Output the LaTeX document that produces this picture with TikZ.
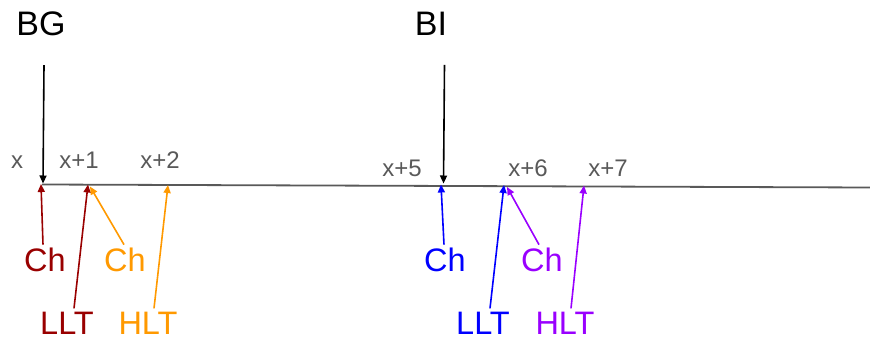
\documentclass[tikz,border=0pt]{standalone}
\usepackage{fontspec}
\setmainfont{Liberation Sans}
\usetikzlibrary{arrows.meta}
\definecolor{slotgray}{RGB}{89,89,89}
\definecolor{bgred}{RGB}{153,0,0}
\definecolor{bgorange}{RGB}{255,153,0}
\definecolor{biblue}{RGB}{0,0,255}
\definecolor{bipurple}{RGB}{153,0,255}

\begin{document}
\begin{tikzpicture}[x=1pt, y=-1pt, >={Triangle[length=8pt,width=7pt]}, line width=1.6pt,
  head/.style={font=\fontsize{34}{34}\selectfont, inner sep=0pt, anchor=base},
  slot/.style={text=slotgray, font=\fontsize{24}{24}\selectfont, inner sep=0pt, anchor=base},
  tag/.style={font=\fontsize{32.5}{33}\selectfont, inner sep=0pt, anchor=base}]
  \useasboundingbox (0,0) rectangle (870,337);
  % timeline
  \coordinate (tlstart) at (42,184.5);
  \coordinate (tlend) at (870,187.5);
  \draw[slotgray, line width=1.8pt] (tlstart) -- (tlend);
  % slot positions on the line
  \coordinate (pbg) at (43,183.5);
  \coordinate (px) at (41,184);
  \coordinate (px1) at (88,184.5);
  \coordinate (px1b) at (90,186.5);
  \coordinate (px2) at (168,185);
  \coordinate (pbi) at (443.5,183.5);
  \coordinate (px5) at (441,184.5);
  \coordinate (px6) at (504,185);
  \coordinate (px6b) at (507,187);
  \coordinate (px7) at (584,185.5);
  % slot labels
  \foreach \x/\y/\n/\t in {17/168/sx/x, 79/168/sx1/x+1, 160/168/sx2/x+2,
                           402/176/sx5/x+5, 528/176/sx6/x+6, 608/176/sx7/x+7}{
    \node[slot] (\n) at (\x,\y) {\t};
  }
  % beacons
  \node[head] (bg) at (41,36) {BG};
  \node[head] (bi) at (431,36) {BI};
  \draw[->] (bg.south -| pbg) ++(1,28) -- (pbg);
  \draw[->] (bi.south -| pbi) ++(1,28) -- (pbi);
  % BG side
  \node[tag, text=bgred] (chbg) at (45,271) {Ch};
  \node[tag, text=bgred] (lltbg) at (67,334.5) {LLT};
  \node[tag, text=bgorange] (chbgo) at (125,271) {Ch};
  \node[tag, text=bgorange] (hltbg) at (148,334.5) {HLT};
  \draw[->, bgred] ([xshift=-2pt,yshift=2pt]chbg.north) -- (px);
  \draw[->, bgred] ([xshift=7pt,yshift=3pt]lltbg.north) -- (px1);
  \draw[->, bgorange] ([xshift=-1pt,yshift=2pt]chbgo.north) -- (px1b);
  \draw[->, bgorange] ([xshift=6pt,yshift=3pt]hltbg.north) -- (px2);
  % BI side
  \node[tag, text=biblue] (chbi) at (445,271) {Ch};
  \node[tag, text=biblue] (lltbi) at (483,334.5) {LLT};
  \node[tag, text=bipurple] (chbip) at (542,271) {Ch};
  \node[tag, text=bipurple] (hltbi) at (565,334.5) {HLT};
  \draw[->, biblue] ([xshift=-1pt,yshift=2pt]chbi.north) -- (px5);
  \draw[->, biblue] ([xshift=7pt,yshift=3pt]lltbi.north) -- (px6);
  \draw[->, bipurple] ([xshift=-3pt,yshift=2pt]chbip.north) -- (px6b);
  \draw[->, bipurple] ([xshift=6pt,yshift=3pt]hltbi.north) -- (px7);
\end{tikzpicture}
\end{document}
